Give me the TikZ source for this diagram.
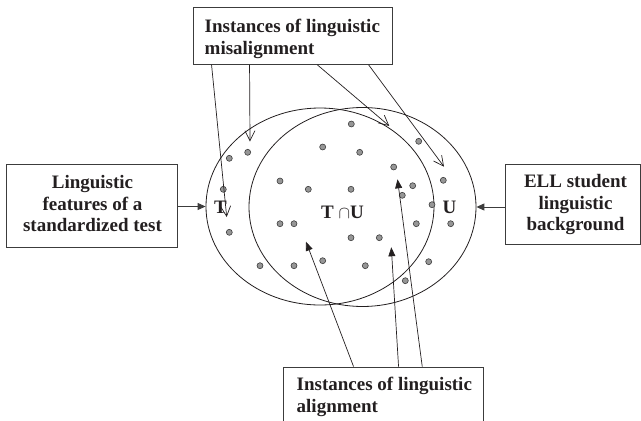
\documentclass[tikz,border=0pt]{standalone}
\usepackage{fontspec}
\setmainfont{Liberation Serif}
\usetikzlibrary{shapes.geometric,arrows.meta,calc}
\definecolor{ink}{RGB}{35,31,32}
\definecolor{boxline}{RGB}{60,60,60}
\definecolor{dotfill}{RGB}{150,150,150}
\definecolor{dotline}{RGB}{60,60,60}
\begin{document}
\begin{tikzpicture}[x=1pt,y=-1pt,
  box/.style={draw=boxline, line width=0.9pt, rectangle, inner sep=0pt},
  lbl/.style={inner sep=0pt, text=ink, font=\fontsize{19}{21.7}\selectfont\bfseries},
  setshape/.style={draw=ink, line width=0.8pt, ellipse, inner sep=0pt},
  openarrow/.style={draw=ink, line width=0.7pt, -{Straight Barb[length=10pt,width=10pt]}},
  fillarrow/.style={draw=ink, line width=0.7pt, -{Triangle[length=9pt,width=7pt]}},
  sidearrow/.style={draw=boxline, line width=0.9pt, -{Triangle[length=8pt,width=7pt]}},
  dot/.style={fill=dotfill, draw=dotline, line width=0.6pt}
]
\clip (0,0) rectangle (641,421);

% boxes
\node[box, minimum width=199pt, minimum height=57pt] (mis) at (292.5,35.8) {};
\node[box, minimum width=171pt, minimum height=83pt] (feat) at (92.3,205.5) {};
\node[box, minimum width=135.5pt, minimum height=80pt] (ell) at (572.8,204) {};
\node[box, minimum width=200pt, minimum height=58pt] (ali) at (383.3,396) {};

% box texts
\node[lbl, anchor=base west] (mistxt) at (204.5,32.3)
  {\begin{tabular}[t]{@{}l@{}}Instances of linguistic\\misalignment\end{tabular}};
\node[lbl, anchor=base] (feattxt) at (92.5,188.3)
  {\begin{tabular}[t]{@{}c@{}}Linguistic\\features of a\\standardized test\end{tabular}};
\node[lbl, anchor=base] (elltxt) at (575.5,187.5)
  {\begin{tabular}[t]{@{}c@{}}ELL student\\linguistic\\background\end{tabular}};
\node[lbl, anchor=base west] (alitxt) at (296.5,390.8)
  {\begin{tabular}[t]{@{}l@{}}Instances of linguistic\\alignment\end{tabular}};

% sets
\node[setshape, minimum width=228pt, minimum height=197pt] (Tset) at (320,206.5) {};
\node[setshape, minimum width=227pt, minimum height=199pt] (Uset) at (362.5,207) {};

% dots
\foreach \p in {(351.3,124),(418.7,141.3),(229.3,158.3),(247.7,152.3),(322.7,147),
  (359.7,152.3),(393.7,167),(443.3,180.3),(280,181),(308.3,189.3),(351,189.3),
  (412.7,185.7),(402.3,195.3),(223.3,189.3),(432,204.7),(229.3,232.3),(280,223.7),
  (294,223.7),(416.3,223.7),(450.7,223.7),(351,237.7),(379.3,237.7),(322.7,260.7),
  (260,265.7),(294,265.7),(365.3,265.7),(428.7,261.7),(405.3,280.7)}
  \draw[dot] \p circle (3pt);

% side arrows
\draw[sidearrow] (feat.east |- Tset.west) -- (Tset.west);
\draw[sidearrow] (ell.west |- Uset.east) -- (Uset.east);

% misalignment arrows
\coordinate (m1) at (226.7,217);
\coordinate (m2) at (250,141.5);
\coordinate (m3) at (389.3,126);
\coordinate (m4) at (444,166.7);
\draw[openarrow] ($(mis.south west)+(19,0)$) -- (m1);
\draw[openarrow] ($(mis.south west)+(57,0)$) -- (m2);
\draw[openarrow] ($(mis.south west)+(124.7,0)$) -- (m3);
\draw[openarrow] ($(mis.south west)+(176,0)$) -- (m4);

% alignment arrows
\coordinate (a1) at (306,241.7);
\coordinate (a2) at (391.3,247.3);
\coordinate (a3) at (397.5,179.3);
\draw[fillarrow] ($(ali.north west)+(70.7,0)$) -- (a1);
\draw[fillarrow] ($(ali.north west)+(115.7,0)$) -- (a2);
\draw[fillarrow] ($(ali.north west)+(139.4,0)$) -- (a3);

% set labels
\node[lbl, anchor=base] (Tlab) at (220.5,213) {T};
\node[lbl, anchor=base] (Ulab) at (449.6,213.2) {U};
\node[lbl, anchor=base] (TUlab) at (342.5,218.3) {T $\cap$U};
\end{tikzpicture}
\end{document}
